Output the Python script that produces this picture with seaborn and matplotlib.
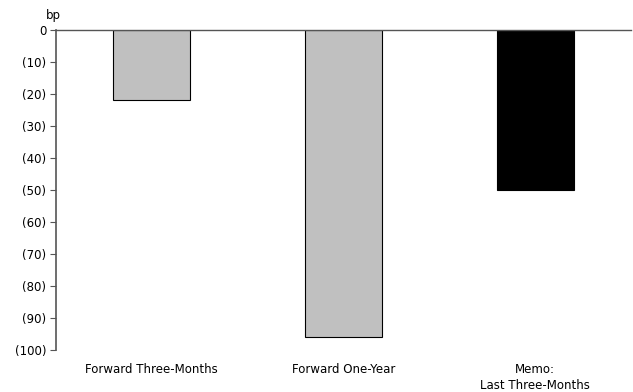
import matplotlib
matplotlib.use("Agg")
import matplotlib.pyplot as plt
import seaborn as sns
from matplotlib.ticker import FuncFormatter

categories = ["Forward Three-Months", "Forward One-Year", "Memo:\nLast Three-Months"]
values = [-22, -96, -50]
bar_colors = ["#C0C0C0", "#C0C0C0", "#000000"]
y_ticks = [0, -10, -20, -30, -40, -50, -60, -70, -80, -90, -100]

sns.set_style("white")
plt.rcParams["font.family"] = ["DejaVu Sans"]
plt.rcParams["text.color"] = "black"
plt.rcParams["xtick.color"] = "black"
plt.rcParams["ytick.color"] = "black"

fig = plt.figure(figsize=(6.33, 3.92), dpi=100)
ax = fig.add_axes([56 / 633, 1 - 350 / 392, 575 / 633, 320 / 392])

sns.barplot(x=categories, y=values, hue=categories, palette=bar_colors,
            legend=False, width=0.4, edgecolor="black", linewidth=0.8, ax=ax)

ax.set_xlim(-0.5, 2.5)
ax.set_ylim(-100, 0)
ax.set_yticks(y_ticks)
ax.yaxis.set_major_formatter(FuncFormatter(
    lambda v, _: "0" if v == 0 else f"({abs(int(round(v)))})"))

for side in ["right", "bottom"]:
    ax.spines[side].set_visible(False)
ax.spines["left"].set_color("#555555")
ax.spines["left"].set_linewidth(1.2)
ax.spines["top"].set_color("#555555")
ax.spines["top"].set_linewidth(1.0)

ax.tick_params(axis="y", which="major", left=True, length=4, width=0.8,
               color="#555555", labelsize=8.5, labelcolor="black", pad=3)
ax.tick_params(axis="x", bottom=False, labelsize=8.5, labelcolor="black", pad=6)
for lbl in ax.get_xticklabels():
    lbl.set_linespacing(1.3)
ax.set_xlabel("")
ax.set_ylabel("")
ax.text(-0.005, 1.025, "bp", transform=ax.transAxes, ha="center", va="bottom",
        fontsize=8.5)

fig.savefig("out.png", dpi=100)
